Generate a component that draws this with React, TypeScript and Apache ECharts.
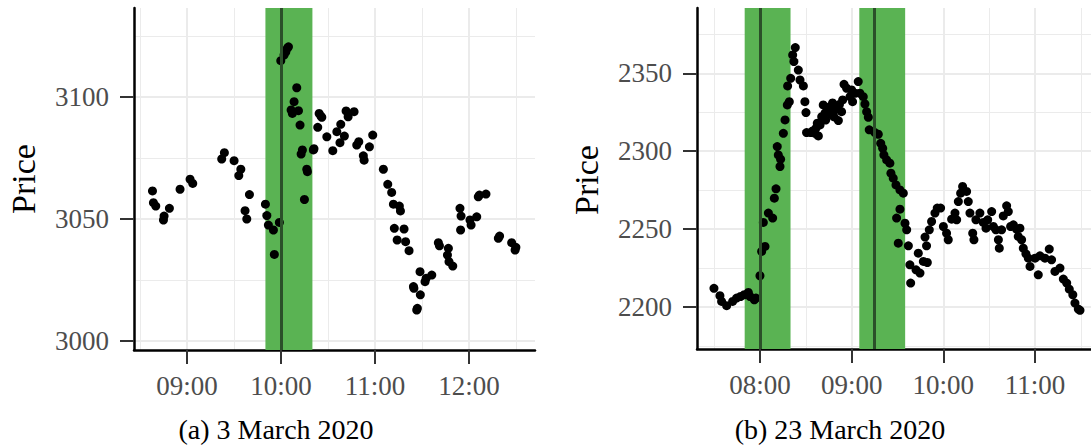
import React, { useEffect, useRef } from "react";
import * as echarts from "echarts";

// 3 March 2020 session: observation times and prices
const timesA: string[] = [
  "08:37:54", "08:38:30", "08:40:00", "08:44:54", "08:45:18", "08:48:42", "08:55:30", "09:01:54", "09:03:36",
  "09:22:06", "09:23:48", "09:30:00", "09:34:18", "09:33:00", "09:39:48", "09:37:00", "09:38:06",
  "09:50:00", "09:50:54", "09:51:54", "09:55:06", "09:58:54", "09:55:42", "09:59:48", "10:01:54",
  "10:04:00", "10:04:42", "10:03:00", "10:10:00", "10:08:18", "10:06:24", "10:11:06", "10:07:12",
  "10:12:06", "10:13:36", "10:12:48", "10:16:24", "10:16:48", "10:14:54", "10:20:36", "10:21:00",
  "10:23:24", "10:24:18", "10:25:24", "10:26:00", "10:29:12", "10:33:00", "10:35:36", "10:38:06",
  "10:37:36", "10:40:24", "10:41:30", "10:42:48", "10:46:36", "10:48:18", "10:49:36", "10:52:30",
  "10:53:00", "10:56:24", "10:58:30", "11:05:18", "11:08:06", "11:10:36", "11:11:42", "11:15:30",
  "11:16:12", "11:12:18", "11:18:30", "11:14:06", "11:19:30", "11:21:42", "11:24:30", "11:24:48",
  "11:28:42", "11:28:54", "11:26:36", "11:27:00", "11:31:54", "11:32:36", "11:36:12", "11:40:24",
  "11:41:06", "11:46:48", "11:46:12", "11:47:12", "11:49:36", "11:54:12", "11:54:54", "11:54:36",
  "12:00:36", "12:01:18", "12:04:54", "12:05:54", "12:06:36", "12:10:48", "12:18:42", "12:19:30",
  "12:27:12", "12:29:24", "12:29:54",
];
const pricesA: number[] = [
  3061.5, 3056.7, 3055.3, 3049.6, 3051.2, 3054.4, 3062.2, 3066.3, 3064.6,
  3074.6, 3077.2, 3073.9, 3070.4, 3067.8, 3060.0, 3053.4, 3050.0,
  3056.1, 3051.4, 3047.5, 3045.5, 3048.6, 3035.5, 3114.9, 3117.2,
  3120.0, 3120.6, 3118.5, 3103.8, 3098.1, 3094.7, 3094.4, 3093.3,
  3088.5, 3078.3, 3076.6, 3070.4, 3069.4, 3058.0, 3078.3, 3078.8,
  3087.6, 3093.3, 3092.2, 3091.7, 3083.7, 3078.0, 3085.8, 3088.8,
  3081.3, 3084.0, 3094.3, 3091.9, 3094.0, 3080.3, 3081.7, 3075.9,
  3074.1, 3079.6, 3084.4, 3070.4, 3064.2, 3060.9, 3056.1, 3055.3,
  3053.3, 3046.2, 3045.9, 3041.4, 3040.7, 3037.0, 3022.3, 3021.6,
  3028.4, 3018.9, 3012.7, 3013.4, 3024.3, 3025.7, 3027.0, 3040.3,
  3039.0, 3038.0, 3035.2, 3032.5, 3030.7, 3054.4, 3051.2, 3045.5,
  3049.6, 3047.5, 3050.9, 3059.1, 3059.8, 3060.2, 3042.1, 3043.0,
  3040.3, 3037.3, 3038.4,
];

// 23 March 2020 session: observation times and prices
const timesB: string[] = [
  "07:29:54", "07:33:48", "07:34:54", "07:38:12", "07:42:06", "07:44:42", "07:47:18", "07:49:42",
  "07:52:24", "07:53:30", "07:56:18", "07:57:24", "08:00:00", "08:01:06", "08:03:18", "08:02:12",
  "08:05:30", "08:08:18", "08:09:24", "08:10:30", "08:13:06", "08:13:30", "08:12:00", "08:11:18",
  "08:15:18", "08:16:24", "08:17:54", "08:19:12", "08:18:06", "08:20:06", "08:21:24", "08:23:06",
  "08:22:12", "08:25:06", "08:26:12", "08:28:24", "08:29:24", "08:30:06", "08:30:30", "08:33:12",
  "08:36:00", "08:38:12", "08:36:36", "08:39:18", "08:40:24", "08:41:24", "08:42:30", "08:44:06",
  "08:45:48", "08:46:54", "08:49:06", "08:51:18", "08:50:12", "08:53:24", "08:54:06", "08:55:00",
  "08:56:42", "08:58:54", "09:00:36", "09:00:00", "09:02:12", "09:04:18", "09:05:24", "09:07:36",
  "09:08:42", "09:09:48", "09:10:54", "09:11:30", "09:15:12", "09:17:24", "09:19:00", "09:20:18",
  "09:21:06", "09:22:54", "09:25:00", "09:25:42", "09:27:12", "09:29:00", "09:31:36", "09:33:48",
  "09:31:36", "09:29:24", "09:34:54", "09:36:00", "09:30:30", "09:37:06", "09:38:06", "09:38:36",
  "09:42:06", "09:44:42", "09:43:36", "09:46:54", "09:49:30", "09:48:00", "09:49:00", "09:50:48",
  "09:52:18", "09:54:30", "09:56:00", "09:58:12", "10:00:00", "10:02:06", "10:03:12", "10:05:24",
  "10:07:36", "10:08:42", "10:09:48", "10:11:18", "10:12:36", "10:15:12", "10:16:18", "10:17:24",
  "10:19:12", "10:20:00", "10:21:18", "10:23:54", "10:26:06", "10:27:54", "10:29:00", "10:31:36",
  "10:32:42", "10:34:24", "10:36:00", "10:36:36", "10:38:06", "10:39:12", "10:41:24", "10:42:30",
  "10:44:00", "10:45:48", "10:47:54", "10:50:06", "10:49:00", "10:51:12", "10:52:18", "10:54:00",
  "10:55:36", "10:56:42", "11:00:00", "11:02:06", "11:03:12", "11:06:30", "11:09:18", "11:10:48",
  "11:13:00", "11:16:18", "11:18:30", "11:20:42", "11:22:24", "11:24:42", "11:26:06", "11:28:18",
  "11:29:24", "08:34:30", "08:37:30", "08:43:00", "08:47:30", "08:48:30", "08:52:00",
];
const pricesB: number[] = [
  2212.0, 2207.3, 2203.6, 2200.9, 2203.6, 2205.8, 2206.8, 2207.9,
  2209.4, 2206.8, 2204.7, 2205.8, 2220.1, 2235.7, 2238.9, 2254.3,
  2260.3, 2257.1, 2269.9, 2275.9, 2290.2, 2294.9, 2297.6, 2303.0,
  2311.5, 2320.1, 2329.7, 2331.8, 2341.9, 2346.8, 2361.8, 2366.5,
  2357.5, 2352.1, 2345.7, 2341.9, 2331.8, 2324.8, 2312.0, 2312.0,
  2311.5, 2309.8, 2314.7, 2316.9, 2322.2, 2329.7, 2324.4, 2326.5,
  2328.6, 2323.3, 2326.5, 2319.7, 2328.6, 2325.4, 2332.9, 2342.9,
  2340.4, 2335.0, 2331.8, 2339.3, 2337.2, 2344.7, 2337.2, 2335.0,
  2330.3, 2325.4, 2321.8, 2313.7, 2312.0, 2310.9, 2305.1, 2301.9,
  2297.6, 2294.4, 2292.3, 2285.9, 2282.7, 2278.4, 2275.2, 2273.1,
  2262.8, 2257.1, 2253.8, 2249.6, 2241.0, 2239.3, 2227.1, 2215.4,
  2223.9, 2221.8, 2234.6, 2229.3, 2228.6, 2244.9, 2239.3, 2249.6,
  2254.9, 2260.3, 2263.5, 2263.5, 2251.7, 2247.4, 2243.2, 2256.4,
  2260.3, 2256.0, 2267.7, 2273.1, 2277.4, 2274.2, 2267.7, 2260.3,
  2247.4, 2243.2, 2256.0, 2260.3, 2254.3, 2250.6, 2256.0, 2261.3,
  2251.7, 2249.6, 2243.2, 2237.8, 2249.6, 2258.5, 2265.0, 2261.3,
  2251.7, 2252.8, 2250.0, 2250.6, 2245.3, 2243.2, 2237.8, 2234.2,
  2231.4, 2226.1, 2231.4, 2220.7, 2232.9, 2231.4, 2237.2, 2230.3,
  2222.9, 2225.0, 2218.0, 2215.4, 2211.5, 2207.9, 2202.6, 2198.7,
  2197.9, 2313.0, 2318.0, 2320.0, 2331.0, 2322.0, 2330.0,
];

// Highlighted windows [start, end] and marker times
const windowsA: [string, string][] = [["09:50", "10:20"]];
const markersA: string[] = ["10:00"];
const windowsB: [string, string][] = [["07:50", "08:20"], ["09:05", "09:35"]];
const markersB: string[] = ["08:00", "09:15"];

// Axis ticks and ranges
const hourTicksA: number[] = [9, 10, 11, 12];
const hourTicksB: number[] = [8, 9, 10, 11];
const priceTicksA: number[] = [3000, 3050, 3100];
const priceTicksB: number[] = [2200, 2250, 2300, 2350];
const xRangeA: [string, string] = ["08:26:06", "12:42:06"];
const xRangeB: [string, string] = ["07:18:48", "11:36:36"];
const yRangeA: [number, number] = [2996.3, 3136.5];
const yRangeB: [number, number] = [2173.1, 2391.9];

const captions: string[] = ["(a) 3 March 2020", "(b) 23 March 2020"];

const toHours = (t: string): number => {
  const [h, m, s] = t.split(":").map(Number);
  return h + (m || 0) / 60 + (s || 0) / 3600;
};

const FONT = "Liberation Serif";
const GREEN = "#5ab353";
const GRID_COLOR = "#ebebeb";

function xAxisFor(gridIndex: number, range: [string, string], ticks: number[]) {
  return {
    type: "value",
    gridIndex,
    min: toHours(range[0]),
    max: toHours(range[1]),
    minInterval: 1,
    maxInterval: 1,
    axisLine: { show: true, onZero: false, lineStyle: { color: "#000", width: 2.5 } },
    axisTick: { show: true, length: 14, customValues: ticks, lineStyle: { color: "#333", width: 2 } },
    axisLabel: {
      customValues: ticks,
      margin: 22,
      color: "#4d4d4d",
      fontFamily: FONT,
      fontSize: 27,
      formatter: (v: number) => `${String(Math.round(v)).padStart(2, "0")}:00`,
    },
    splitLine: { show: true, lineStyle: { color: GRID_COLOR, width: 2 } },
    minorTick: { show: false, splitNumber: 2 },
    minorSplitLine: { show: true, lineStyle: { color: GRID_COLOR, width: 1 } },
  };
}

function yAxisFor(gridIndex: number, range: [number, number], ticks: number[]) {
  return {
    type: "value",
    gridIndex,
    min: range[0],
    max: range[1],
    minInterval: 50,
    maxInterval: 50,
    axisLine: { show: true, onZero: false, lineStyle: { color: "#000", width: 2.5 } },
    axisTick: { show: true, length: 14, customValues: ticks, lineStyle: { color: "#333", width: 2 } },
    axisLabel: {
      customValues: ticks,
      margin: 25,
      color: "#4d4d4d",
      fontFamily: FONT,
      fontSize: 27,
      formatter: (v: number) => String(Math.round(v)),
    },
    splitLine: { show: true, lineStyle: { color: GRID_COLOR, width: 2 } },
    minorTick: { show: false, splitNumber: 2 },
    minorSplitLine: { show: true, lineStyle: { color: GRID_COLOR, width: 1 } },
  };
}

function bandSeries(axisIndex: number, windows: [string, string][], markers: string[]) {
  return {
    type: "line",
    xAxisIndex: axisIndex,
    yAxisIndex: axisIndex,
    data: [],
    z: 1,
    silent: true,
    markArea: {
      silent: true,
      itemStyle: { color: GREEN, opacity: 1 },
      data: windows.map(([a, b]) => [{ xAxis: toHours(a) }, { xAxis: toHours(b) }]),
    },
    markLine: {
      silent: true,
      symbol: ["none", "none"],
      label: { show: false },
      lineStyle: { color: "#2b4f29", width: 3, type: "solid", opacity: 1 },
      emphasis: { disabled: true },
      data: markers.map((m) => ({ xAxis: toHours(m) })),
    },
  };
}

function pointSeries(axisIndex: number, times: string[], prices: number[]) {
  return {
    type: "scatter",
    xAxisIndex: axisIndex,
    yAxisIndex: axisIndex,
    z: 3,
    symbolSize: 9,
    itemStyle: { color: "#000", opacity: 1 },
    data: times.map((t, i) => [toHours(t), prices[i]]),
  };
}

const textStyle = (text: string, size: number) => ({
  text,
  fontFamily: FONT,
  fontSize: size,
  fill: "#000",
  align: "center",
  verticalAlign: "middle",
});

export default function App() {
  const ref = useRef<HTMLDivElement>(null);

  useEffect(() => {
    if (!ref.current) return;
    const chart = echarts.init(ref.current, null, { renderer: "svg" });
    chart.setOption({
      animation: false,
      backgroundColor: "#fff",
      grid: [
        { left: 134, top: 8, width: 401, height: 342 },
        { left: 697, top: 8, width: 394, height: 341 },
      ],
      xAxis: [xAxisFor(0, xRangeA, hourTicksA), xAxisFor(1, xRangeB, hourTicksB)],
      yAxis: [yAxisFor(0, yRangeA, priceTicksA), yAxisFor(1, yRangeB, priceTicksB)],
      series: [
        bandSeries(0, windowsA, markersA),
        bandSeries(1, windowsB, markersB),
        pointSeries(0, timesA, pricesA),
        pointSeries(1, timesB, pricesB),
      ],
      graphic: [
        { type: "text", x: 23, y: 179, rotation: Math.PI / 2, style: textStyle("Price", 34) },
        { type: "text", x: 586, y: 180, rotation: Math.PI / 2, style: textStyle("Price", 34) },
        { type: "text", x: 276, y: 429, style: textStyle(captions[0], 28) },
        { type: "text", x: 840, y: 429, style: textStyle(captions[1], 28) },
      ],
    });
    return () => chart.dispose();
  }, []);

  return (
    <div
      ref={ref}
      style={{ position: "fixed", left: 0, top: 0, width: 1091, height: 446, background: "#fff" }}
    />
  );
}
